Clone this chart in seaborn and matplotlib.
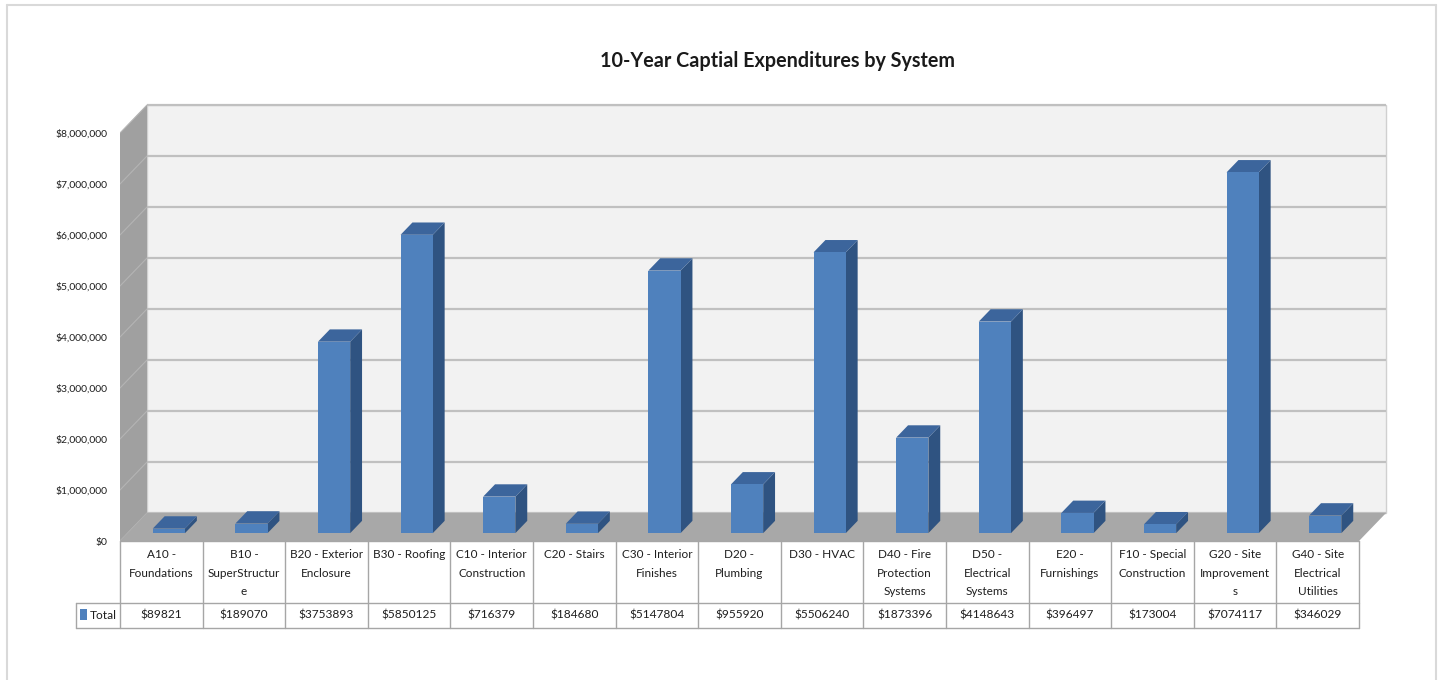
import matplotlib
matplotlib.use("Agg")
import matplotlib.pyplot as plt
import matplotlib.transforms as mtransforms
from matplotlib.patches import Polygon, Rectangle
from matplotlib.lines import Line2D
import pandas as pd
import seaborn as sns

# ---- data -------------------------------------------------------------
systems = [
    "A10 -\nFoundations",
    "B10 -\nSuperStructur\ne",
    "B20 - Exterior\nEnclosure",
    "B30 - Roofing",
    "C10 - Interior\nConstruction",
    "C20 - Stairs",
    "C30 - Interior\nFinishes",
    "D20 -\nPlumbing",
    "D30 - HVAC",
    "D40 - Fire\nProtection\nSystems",
    "D50 -\nElectrical\nSystems",
    "E20 -\nFurnishings",
    "F10 - Special\nConstruction",
    "G20 - Site\nImprovement\ns",
    "G40 - Site\nElectrical\nUtilities",
]
totals = [89821, 189070, 3753893, 5850125, 716379, 184680, 5147804, 955920,
          5506240, 1873396, 4148643, 396497, 173004, 7074117, 346029]
y_ticks = [0, 1000000, 2000000, 3000000, 4000000, 5000000, 6000000, 7000000, 8000000]
series_name = "Total"
title = "10-Year Captial Expenditures by System"

# ---- style ------------------------------------------------------------
sns.set_theme(style="white")
plt.rcParams["font.family"] = ["Lato", "DejaVu Sans"]

FRONT = "#4F81BD"
TOP = "#3C659C"
SIDE = "#2F5381"
WALL = "#F2F2F2"
SIDE_WALL = "#A0A0A0"
FLOOR = "#A8A8A8"
GRID = "#C0C0C0"
TABLE_LINE = "#A6A6A6"
TEXT = "#1E1E1E"

W, H = 1441, 680
fig = plt.figure(figsize=(W / 100, H / 100), dpi=100)
fig.patch.set_facecolor("white")


def fx(px):
    return px / W


def fy(py):
    return 1 - py / H


# plot area: front plane of the floor and the receding back wall
left_px, right_px, top_px, bottom_px = 120, 1388, 103, 541
ax = fig.add_axes([fx(left_px), fy(bottom_px),
                   (right_px - left_px) / W, (bottom_px - top_px) / H])
ax.set_facecolor("none")

COL_PX = (1359 - 120) / len(systems)   # pixels per category
M_PX = 51.0                             # pixels per million
DEPTH_X = 27 / COL_PX                   # oblique depth in category units
DEPTH_Y = 28 / M_PX * 1e6               # oblique depth in dollars
n = len(systems)
x0, x1 = -0.5, n - 0.5
ymax = y_ticks[-1]


def proj(x, y, d):
    """Oblique projection of a point at depth d (0 front, 1 back)."""
    return (x + d * DEPTH_X, y + d * DEPTH_Y)


# back wall
wall = Polygon([proj(x0, 0, 1), proj(x1, 0, 1), proj(x1, ymax, 1), proj(x0, ymax, 1)],
               closed=True, facecolor=WALL, edgecolor="#D0D0D0", lw=1, zorder=0)
ax.add_patch(wall)
# left side wall
side_wall = Polygon([proj(x0, 0, 0), proj(x0, 0, 1), proj(x0, ymax, 1), proj(x0, ymax, 0)],
                    closed=True, facecolor=SIDE_WALL, edgecolor="none", zorder=0.5)
ax.add_patch(side_wall)
# gridlines on the back wall and the side wall
for t in y_ticks:
    bx, by = zip(proj(x0, t, 1), proj(x1, t, 1))
    ax.plot(bx, by, color=GRID, lw=1.6, zorder=0.6, solid_capstyle="butt")
    sx, sy = zip(proj(x0, t, 0), proj(x0, t, 1))
    ax.plot(sx, sy, color="#B4B4B4", lw=0.8, zorder=0.7)
# floor
floor = Polygon([proj(x0, 0, 0), proj(x1, 0, 0), proj(x1, 0, 1), proj(x0, 0, 1)],
                closed=True, facecolor=FLOOR, edgecolor="none", zorder=1)
ax.add_patch(floor)

# ---- bars -------------------------------------------------------------
df = pd.DataFrame({"system": systems, "total": totals})
sns.barplot(data=df, x="system", y="total", color=FRONT, saturation=1,
            width=0.39, linewidth=0, ax=ax, errorbar=None)

D0, D1 = 0.28, 0.72   # front and back depth of the bars
shift = mtransforms.Affine2D().translate(D0 * DEPTH_X, D0 * DEPTH_Y) + ax.transData
for bar in ax.containers[0]:
    bx0 = bar.get_x()
    bx1 = bx0 + bar.get_width()
    h = bar.get_height()
    bar.set_transform(shift)
    bar.set_zorder(4)
    side = Polygon([proj(bx1, 0, D0), proj(bx1, 0, D1), proj(bx1, h, D1), proj(bx1, h, D0)],
                   closed=True, facecolor=SIDE, edgecolor="none", zorder=3)
    top = Polygon([proj(bx0, h, D0), proj(bx1, h, D0), proj(bx1, h, D1), proj(bx0, h, D1)],
                  closed=True, facecolor=TOP, edgecolor="none", zorder=3.5)
    ax.add_patch(side)
    ax.add_patch(top)

ax.set_xlim(x0, x0 + (right_px - left_px) / COL_PX)
ax.set_ylim(0, (bottom_px - top_px) / M_PX * 1e6)
ax.set_xticks([])
ax.set_yticks(y_ticks)
ax.set_yticklabels([f"${v:,.0f}" for v in y_ticks], fontsize=7.5, color=TEXT)
ax.tick_params(axis="y", length=0, pad=9)
ax.set_xlabel("")
ax.set_ylabel("")
for sp in ax.spines.values():
    sp.set_visible(False)

# ---- data table -------------------------------------------------------
blend = mtransforms.blended_transform_factory(ax.transData, fig.transFigure)
key_left = x0 - (120 - 76) / COL_PX
hdr_top, row_top, row_bot = 541, 603, 628


def hline(xa, xb, ypx):
    ax.add_line(Line2D([xa, xb], [fy(ypx), fy(ypx)], transform=blend,
                       color=TABLE_LINE, lw=1, clip_on=False))


def vline(x, ya, yb):
    ax.add_line(Line2D([x, x], [fy(ya), fy(yb)], transform=blend,
                       color=TABLE_LINE, lw=1, clip_on=False))


hline(x0, x1, hdr_top)
hline(key_left, x1, row_top)
hline(key_left, x1, row_bot)
for k in range(n + 1):
    vline(x0 + k, hdr_top, row_bot)
vline(key_left, row_top, row_bot)

for i, (label, val) in enumerate(zip(systems, totals)):
    ax.text(i, fy(549), label, transform=blend, ha="center", va="top",
            fontsize=8.5, linespacing=1.85, color=TEXT, clip_on=False)
    ax.text(i, fy(615.5), f"${val}", transform=blend, ha="center", va="center",
            fontsize=8.6, color=TEXT, clip_on=False)

# legend key in the table
fig.add_artist(Rectangle((fx(80), fy(620)), 7 / W, 11 / H, transform=fig.transFigure,
                         facecolor=FRONT, edgecolor="none"))
fig.text(fx(90), fy(615.5), series_name, ha="left", va="center",
         fontsize=8.6, color=TEXT)

# ---- title and chart border --------------------------------------------
fig.text(fx(778), fy(61), title, ha="center", va="center",
         fontsize=14.2, fontweight="bold", color="#1A1A1A")
for xs, ys in [([7, 7], [5, 690]), ([7, 1436], [5, 5]), ([1436, 1436], [5, 690])]:
    fig.add_artist(Line2D([fx(v) for v in xs], [fy(v) for v in ys],
                          transform=fig.transFigure, color="#D9D9D9", lw=1.5))

fig.savefig("out.png", dpi=100)
